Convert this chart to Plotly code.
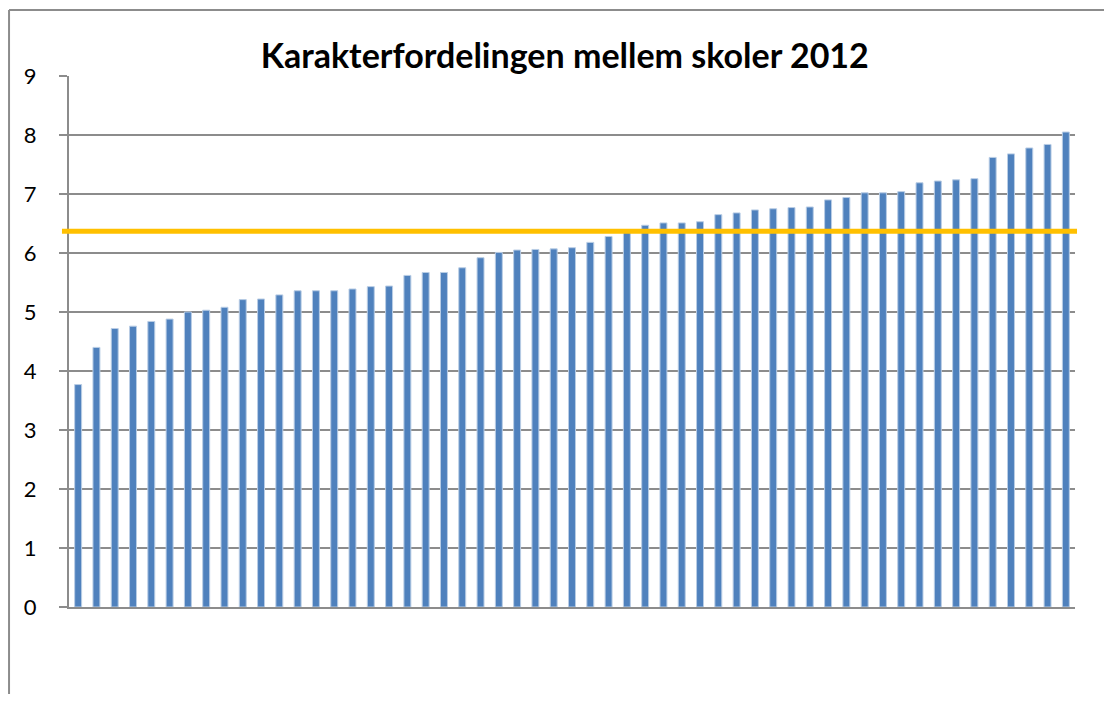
import plotly.graph_objects as go

schools = list(range(1, 56))
grades = [3.77, 4.40, 4.72, 4.76, 4.84, 4.88, 5.00, 5.03, 5.08, 5.21,
          5.22, 5.29, 5.36, 5.36, 5.36, 5.39, 5.43, 5.44, 5.62, 5.67,
          5.67, 5.75, 5.92, 6.01, 6.05, 6.06, 6.07, 6.09, 6.18, 6.28,
          6.35, 6.47, 6.51, 6.51, 6.53, 6.65, 6.68, 6.73, 6.75, 6.77,
          6.78, 6.90, 6.94, 7.02, 7.02, 7.04, 7.19, 7.22, 7.24, 7.26,
          7.62, 7.68, 7.78, 7.84, 8.05]
average = 6.37
title_text = "Karakterfordelingen mellem skoler 2012"
y_ticks = list(range(0, 10))

W, H = 1096, 686

fig = go.Figure()
fig.add_trace(go.Bar(
    x=schools, y=grades,
    marker=dict(color="#4F81BD", line=dict(color="#B9CDE5", width=1)),
    showlegend=False, hoverinfo="y",
))

fig.add_shape(type="line", xref="paper", yref="y",
              x0=-0.007, x1=1.002, y0=average, y1=average,
              line=dict(color="#FFC000", width=5), layer="above")

# chart border (left and top edges visible)
fig.add_shape(type="line", xref="paper", yref="paper",
              x0=-0.0596, x1=-0.0596, y0=-0.4, y1=1.1243,
              line=dict(color="#8C8C8C", width=2), layer="below")
fig.add_shape(type="line", xref="paper", yref="paper",
              x0=-0.0596, x1=1.2, y0=1.1243, y1=1.1243,
              line=dict(color="#8C8C8C", width=2), layer="below")

fig.update_layout(
    width=W, height=H,
    margin=dict(l=61, r=29, t=68, b=87),
    paper_bgcolor="white", plot_bgcolor="white",
    bargap=0.62,
    title=dict(text="<b>" + title_text + "</b>", x=0.508, xanchor="center",
               y=1 - 48 / H, yanchor="middle",
               font=dict(family="Lato, Carlito, sans-serif", size=34, color="black")),
    font=dict(family="Lato, Carlito, sans-serif", color="black"),
)
fig.update_xaxes(
    range=[0.5, 55.5], showticklabels=False, showgrid=False,
    showline=True, linecolor="#8C8C8C", linewidth=2, zeroline=False,
    ticks="", fixedrange=True,
)
fig.update_yaxes(
    range=[0, 9], tickvals=y_ticks, showgrid=True, gridcolor="#8C8C8C", gridwidth=1.5,
    showline=True, linecolor="#8C8C8C", linewidth=2, zeroline=False,
    ticks="outside", ticklen=8, tickcolor="#8C8C8C", tickwidth=1.5,
    tickfont=dict(size=22, family="Lato, Carlito, sans-serif", color="black"),
    ticklabelstandoff=18, fixedrange=True,
)

fig.write_html("out.html")
